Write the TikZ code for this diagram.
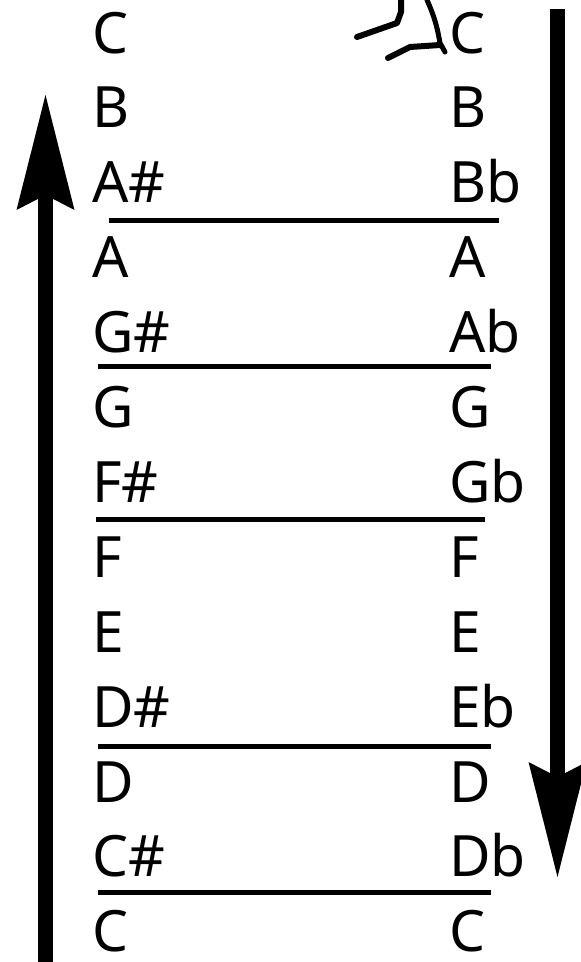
\documentclass[tikz,border=0pt]{standalone}
\usepackage{fontspec}
\setmainfont{Noto Sans}
\usetikzlibrary{arrows.meta}
\begin{document}
\begin{tikzpicture}[x=1pt,y=-1pt,
  note/.style={anchor=base west,inner sep=0pt,font=\fontsize{57}{60}\selectfont},
  sepline/.style={line width=5pt},
  bigarrow/.style={line width=15pt,-{Stealth[length=115pt,width=58pt,inset=15pt,line width=0pt]}},
  sketch/.style={line width=6pt,line cap=round,line join=round}]
\useasboundingbox (0,0) rectangle (581,962);
\foreach \t [count=\i from 0] in {C,B,A\#,A,G\#,G,F\#,F,E,D\#,D,C\#,C}
  \node[note] (l\i) at (92,{53+74.9*\i}) {\t};
\foreach \t [count=\i from 0] in {C,B,Bb,A,Ab,G,Gb,F,E,Eb,D,Db,C}
  \node[note] (r\i) at (449,{53+74.9*\i}) {\t};
% separator lines
\coordinate (s1a) at (109,220); \coordinate (s1b) at (499,220);
\coordinate (s2a) at (98,366);  \coordinate (s2b) at (491,366);
\coordinate (s3a) at (96,519);  \coordinate (s3b) at (485,519);
\coordinate (s4a) at (98,746);  \coordinate (s4b) at (491,746);
\coordinate (s5a) at (98,892);  \coordinate (s5b) at (491,892);
\foreach \k in {1,...,5} \draw[sepline] (s\k a) -- (s\k b);
% arrows
\coordinate (upS) at (45.5,962); \coordinate (upE) at (45.5,95);
\coordinate (dnS) at (557.5,9);  \coordinate (dnE) at (557.5,877);
\draw[bigarrow] (upS) -- (upE);
\draw[bigarrow] (dnS) -- (dnE);
% hand-drawn sketch near the top
\draw[sketch] (357,37) -- (397,23) -- (401,12) -- (401,0);
\draw[sketch,line width=5pt] (427,0) .. controls (436,20) and (438,32) .. (440,43) -- (445,52);
\draw[sketch] (388,58) -- (410,47) -- (440,45);
\end{tikzpicture}
\end{document}
